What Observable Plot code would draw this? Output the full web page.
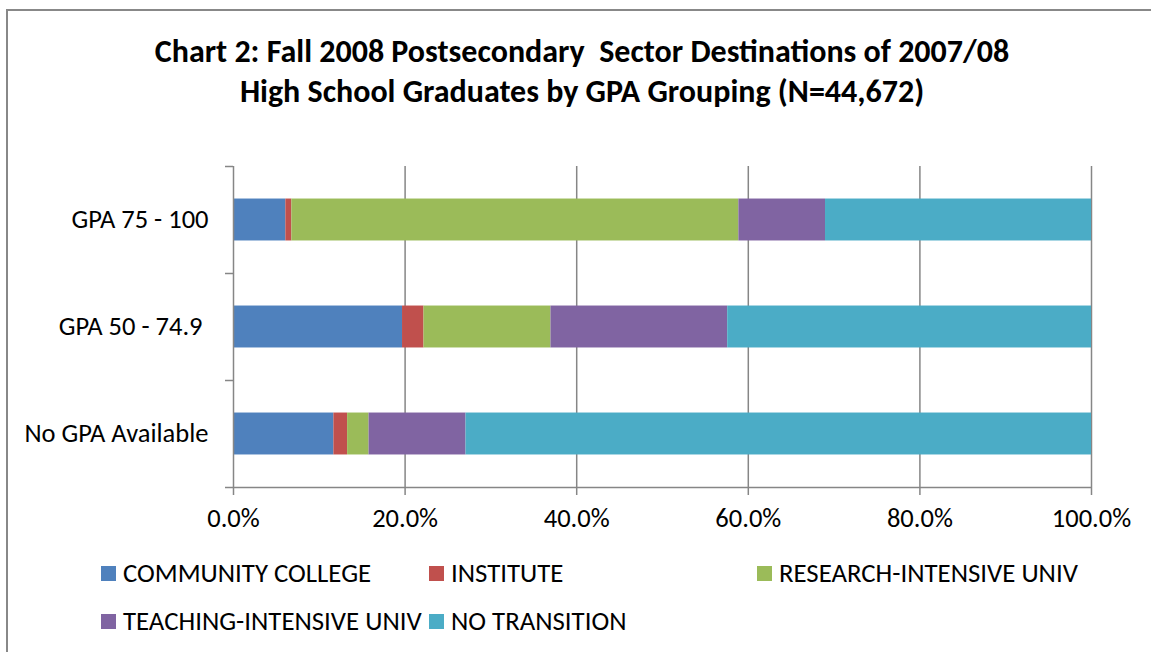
<!DOCTYPE html>
<html><head><meta charset="utf-8">
<script src="https://cdn.jsdelivr.net/npm/d3@7"></script>
<script src="https://cdn.jsdelivr.net/npm/@observablehq/plot@0.6"></script>
<style>
body{margin:0;background:#fff;}
#wrap{position:relative;width:1151px;height:652px;overflow:hidden;font-family:Carlito,"Liberation Sans Narrow","Open Sans",sans-serif;color:#000;}
#frame{position:absolute;left:6px;top:9px;width:1300px;height:800px;border-left:2px solid #888;border-top:2px solid #888;}
#title{position:absolute;left:0;top:32px;width:1164px;text-align:center;font-weight:bold;font-size:32px;line-height:40px;}
#chart{position:absolute;left:0;top:130px;}
.lg{position:absolute;font-size:26.8px;line-height:30px;white-space:nowrap;}
.sw{position:absolute;width:15px;height:15px;}
</style></head>
<body>
<div id="wrap">
  <div id="frame"></div>
  <div id="title">Chart 2: Fall 2008 Postsecondary&nbsp; Sector Destinations of 2007/08<br>High School Graduates by GPA Grouping (N=44,672)</div>
  <div id="chart"></div>
  <div id="legend"></div>
</div>
<script>
const categories = ["GPA 75 - 100", "GPA 50 - 74.9 ", "No GPA Available"];
const sectors = ["COMMUNITY COLLEGE", "INSTITUTE", "RESEARCH-INTENSIVE UNIV", "TEACHING-INTENSIVE UNIV", "NO TRANSITION"];
const communityCollege = [6.1, 19.7, 11.7];
const institute = [0.7, 2.5, 1.6];
const researchIntensive = [52.1, 14.8, 2.5];
const teachingIntensive = [10.1, 20.6, 11.3];
const noTransition = [31.0, 42.4, 72.9];
const xTicks = [0, 20, 40, 60, 80, 100];
const colors = ["#4F81BD", "#C0504D", "#9BBB59", "#8064A2", "#4BACC6"];

const seriesValues = [communityCollege, institute, researchIntensive, teachingIntensive, noTransition];
const table = [];
categories.forEach((c, ci) => {
  sectors.forEach((s, si) => {
    table.push({category: c, sector: s, value: seriesValues[si][ci], pos: categories.length - 1 - ci});
  });
});

const font = 'Carlito,"Liberation Sans Narrow","Open Sans",sans-serif';
const grid = "#868686";
const half = 0.196;

const chart = Plot.plot({
  width: 1151,
  height: 420,
  marginTop: 36,
  marginBottom: 63,
  marginLeft: 233,
  marginRight: 60,
  style: {fontFamily: font, fontSize: "26.5px", color: "#000", background: "transparent"},
  x: {domain: [0, 100], axis: null},
  y: {domain: [0, categories.length], axis: null},
  color: {domain: sectors, range: colors},
  marks: [
    Plot.ruleX(xTicks.filter(d => d > 0), {stroke: grid, strokeWidth: 1.5}),
    Plot.rectX(table, Plot.stackX({
      x: "value",
      y1: d => d.pos + 0.5 - half,
      y2: d => d.pos + 0.5 + half,
      fill: "sector"
    })),
    Plot.ruleX([0], {stroke: grid, strokeWidth: 1.5}),
    Plot.ruleY([0], {stroke: grid, strokeWidth: 1.5}),
    Plot.axisX({ticks: xTicks, tickFormat: d => d.toFixed(1) + "%", tickSize: 8, tickPadding: 13, stroke: grid, strokeWidth: 1.5, fill: "#000", label: null}),
    Plot.axisY({ticks: d3.range(categories.length + 1), tickFormat: () => "", tickSize: 8, stroke: grid, strokeWidth: 1.5, label: null}),
    Plot.axisY({ticks: categories.map((c, i) => i + 0.5), tickFormat: d => categories[categories.length - 1 - Math.floor(d)], tickSize: 0, tickPadding: 25, fill: "#000", label: null})
  ]
});
document.getElementById("chart").appendChild(chart);

const legend = document.getElementById("legend");
const colX = [101, 429, 757];
const rowY = [573, 621];
sectors.forEach((s, i) => {
  const cx = colX[i % 3], cy = rowY[Math.floor(i / 3)];
  const sw = document.createElement("div");
  sw.className = "sw";
  sw.style.left = cx + "px";
  sw.style.top = (cy - 7.5) + "px";
  sw.style.background = colors[i];
  legend.appendChild(sw);
  const t = document.createElement("div");
  t.className = "lg";
  t.style.left = (cx + 22) + "px";
  t.style.top = (cy - 15) + "px";
  t.textContent = s;
  legend.appendChild(t);
});
</script>
</body></html>
